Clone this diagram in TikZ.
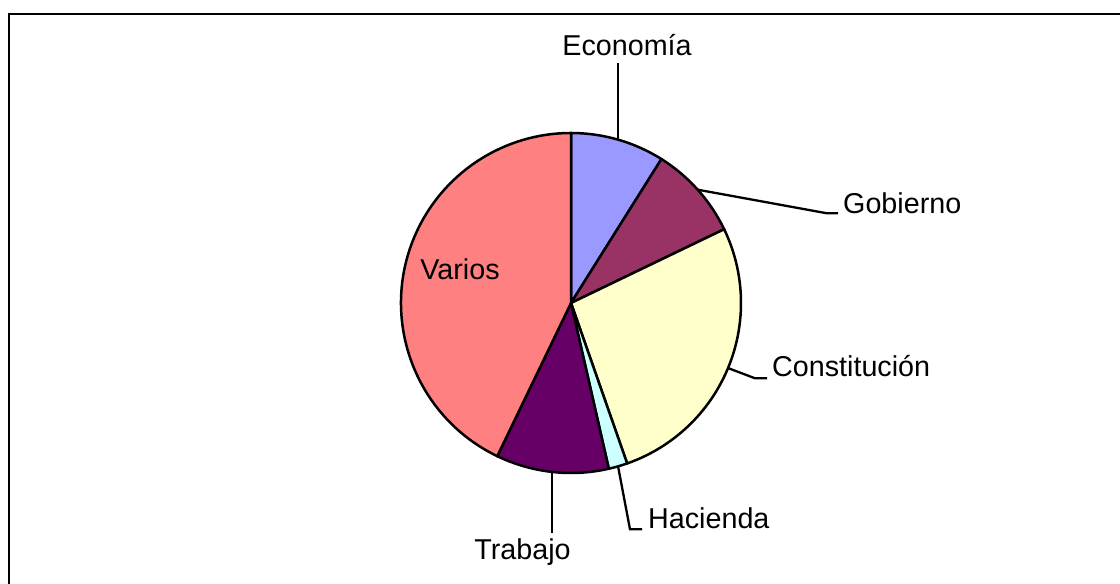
\documentclass[tikz,border=0pt]{standalone}
\usepackage{fontspec}
\setmainfont{Liberation Sans}
\usetikzlibrary{calc}
\definecolor{cEco}{HTML}{9999FF}
\definecolor{cGob}{HTML}{993366}
\definecolor{cCon}{HTML}{FFFFCC}
\definecolor{cHac}{HTML}{CCFFFF}
\definecolor{cTra}{HTML}{660066}
\definecolor{cVar}{HTML}{FF8080}
\tikzset{
  slice/.style={draw=black, line width=2.5pt, line join=round},
  leader/.style={draw=black, line width=2.3pt},
  lbl/.style={inner sep=0pt, font=\fontsize{28.7}{34}\selectfont, text=black},
}
\newcommand{\pieslice}[3]{% color, start, end
  \filldraw[slice, fill=#1] (C) -- ($(C)+(#2:170pt)$) arc[start angle=#2, end angle=#3, radius=170pt] -- cycle;
}
\begin{document}
\begin{tikzpicture}[x=1pt,y=1pt]
\useasboundingbox (0,0) rectangle (1120,584);
\clip (0,0) rectangle (1120,584);
\fill[white] (0,0) rectangle (1120,584);
\draw[line width=2.7pt] (9,570) rectangle (1140,-20);
\coordinate (C) at (571,281);
\pieslice{cEco}{90}{57.857}
\pieslice{cGob}{57.857}{25.714}
\pieslice{cCon}{25.714}{-70.714}
\pieslice{cHac}{-70.714}{-77.143}
\pieslice{cTra}{-77.143}{-115.714}
\pieslice{cVar}{-115.714}{-270}
% label nodes
\node[lbl, anchor=base] (eco) at (627,528) {Economía};
\node[lbl, anchor=base west] (gob) at (843,370) {Gobierno};
\node[lbl, anchor=base west] (con) at (772,207.3) {Constitución};
\node[lbl, anchor=base west] (hac) at (648,55) {Hacienda};
\node[lbl, anchor=base] (tra) at (522.5,24.7) {Trabajo};
\node[lbl, anchor=base] (var) at (460,304) {Varios};
% leader coordinates
\coordinate (ecoA) at ($(C)+(74.07:170pt)$);
\coordinate (ecoB) at (ecoA |- 0,521);
\coordinate (gobA) at ($(C)+(41.79:170pt)$);
\coordinate (gobB) at (827,370.7);
\coordinate (gobC) at (838,370.7);
\coordinate (conA) at ($(C)+(-22.5:170pt)$);
\coordinate (conB) at (755,205.7);
\coordinate (conC) at (767,205.7);
\coordinate (hacA) at ($(C)+(-73.93:170pt)$);
\coordinate (hacB) at (630,54.7);
\coordinate (hacC) at (642,54.7);
\coordinate (traA) at ($(C)+(-96.43:170pt)$);
\coordinate (traB) at (traA |- 0,51);
\draw[leader] (ecoA) -- (ecoB);
\draw[leader] (gobA) -- (gobB) -- (gobC);
\draw[leader] (conA) -- (conB) -- (conC);
\draw[leader] (hacA) -- (hacB) -- (hacC);
\draw[leader] (traA) -- (traB);
\end{tikzpicture}
\end{document}
